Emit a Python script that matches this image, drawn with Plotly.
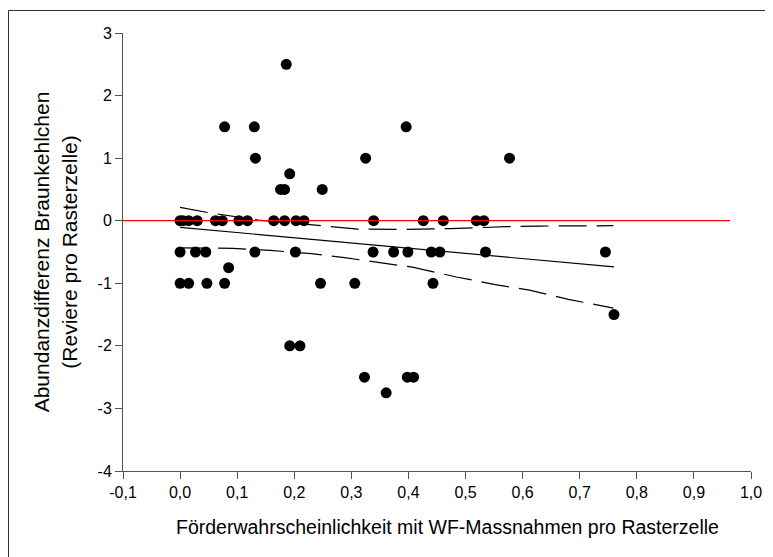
import plotly.graph_objects as go

# ---- data ----
x_p25 = [0.186]
x_p15 = [0.078, 0.130, 0.396]
x_p10 = [0.132, 0.325, 0.577]
x_p075 = [0.192]
x_p05 = [0.176, 0.183, 0.249]
x_0 = [0.0, 0.005, 0.015, 0.030, 0.062, 0.074, 0.103, 0.118, 0.164, 0.183,
       0.203, 0.217, 0.339, 0.426, 0.461, 0.519, 0.532]
x_m05 = [0.0, 0.027, 0.045, 0.131, 0.202, 0.338, 0.374, 0.399, 0.440, 0.455,
         0.535, 0.745]
x_m075 = [0.085]
x_m1 = [0.0, 0.015, 0.047, 0.078, 0.246, 0.306, 0.443]
x_m15 = [0.760]
x_m2 = [0.192, 0.210]
x_m25 = [0.323, 0.398, 0.409]
x_m275 = [0.361]

groups = [(2.5, x_p25), (1.5, x_p15), (1.0, x_p10), (0.75, x_p075), (0.5, x_p05),
          (0.0, x_0), (-0.5, x_m05), (-0.75, x_m075), (-1.0, x_m1), (-1.5, x_m15),
          (-2.0, x_m2), (-2.5, x_m25), (-2.75, x_m275)]

# regression line and 95% confidence band
fit_x = [0.0, 0.76]
fit_y = [-0.106, -0.738]
upper_x = [0.0, 0.05, 0.137, 0.211, 0.311, 0.386, 0.473, 0.573, 0.631, 0.759]
upper_y = [0.212, 0.128, 0.011, -0.053, -0.133, -0.140, -0.125, -0.096, -0.085, -0.080]
lower_x = [0.0, 0.092, 0.158, 0.230, 0.288, 0.353, 0.407, 0.484, 0.552, 0.612, 0.680, 0.759]
lower_y = [-0.433, -0.441, -0.474, -0.527, -0.590, -0.668, -0.743, -0.899, -1.020, -1.110, -1.257, -1.396]

# zero reference line
ref_x = [-0.1, 0.963]
ref_y = [0.0, 0.0]

x_tickvals = [-0.1, 0.0, 0.1, 0.2, 0.3, 0.4, 0.5, 0.6, 0.7, 0.8, 0.9, 1.0]
x_ticktext = ["-0,1", "0,0", "0,1", "0,2", "0,3", "0,4", "0,5", "0,6", "0,7", "0,8", "0,9", "1,0"]
y_tickvals = [3, 2, 1, 0, -1, -2, -3, -4]
y_ticktext = ["3", "2", "1", "0", "-1", "-2", "-3", "-4"]

x_title = "Förderwahrscheinlichkeit mit WF-Massnahmen pro Rasterzelle"
y_title = "Abundanzdifferenz Braunkehlchen<br>(Reviere pro Rasterzelle)"

xs, ys = [], []
for yv, xl in groups:
    xs.extend(xl)
    ys.extend([yv] * len(xl))

FONT = "Liberation Sans, Arial, sans-serif"
AX = "#555555"

fig = go.Figure()
fig.add_trace(go.Scatter(x=xs, y=ys, mode="markers",
                         marker=dict(size=11, color="black", line=dict(width=0)),
                         showlegend=False, hoverinfo="skip"))
fig.add_trace(go.Scatter(x=fit_x, y=fit_y, mode="lines",
                         line=dict(color="black", width=1.2), showlegend=False))
fig.add_trace(go.Scatter(x=upper_x, y=upper_y, mode="lines",
                         line=dict(color="black", width=1.2, dash="28px,10px"), showlegend=False))
fig.add_trace(go.Scatter(x=lower_x, y=lower_y, mode="lines",
                         line=dict(color="black", width=1.2, dash="28px,10px"), showlegend=False))
fig.add_trace(go.Scatter(x=ref_x, y=ref_y, mode="lines",
                         line=dict(color="red", width=1.2), showlegend=False))

fig.update_layout(
    width=765, height=549,
    margin=dict(l=115, r=22, t=25, b=86),
    paper_bgcolor="white", plot_bgcolor="white",
    font=dict(family=FONT, size=16, color="black"),
    showlegend=False,
    xaxis=dict(range=[-0.1, 1.0], tickvals=x_tickvals, ticktext=x_ticktext,
               showgrid=False, zeroline=False, showline=True, linecolor=AX, linewidth=1,
               ticks="outside", ticklen=7, tickcolor=AX, tickwidth=1,
               tickfont=dict(size=16, family=FONT)),
    yaxis=dict(range=[-4, 3], tickvals=y_tickvals, ticktext=y_ticktext,
               showgrid=False, zeroline=False, showline=True, linecolor=AX, linewidth=1,
               ticks="outside", ticklen=7, tickcolor=AX, tickwidth=1,
               tickfont=dict(size=16, family=FONT),
               title=dict(text=y_title, font=dict(size=21, family=FONT), standoff=14)),
    annotations=[dict(text=x_title, xref="paper", yref="paper", x=0.516, y=-0.128,
                      xanchor="center", yanchor="middle", showarrow=False,
                      font=dict(size=19.5, family=FONT))],
    shapes=[dict(type="rect", xref="paper", yref="paper",
                 x0=-0.1823, x1=1.0287, y0=-0.2, y1=1.0514,
                 line=dict(color="#333333", width=1), fillcolor="rgba(0,0,0,0)",
                 layer="below")],
)

fig.write_html("out.html")
